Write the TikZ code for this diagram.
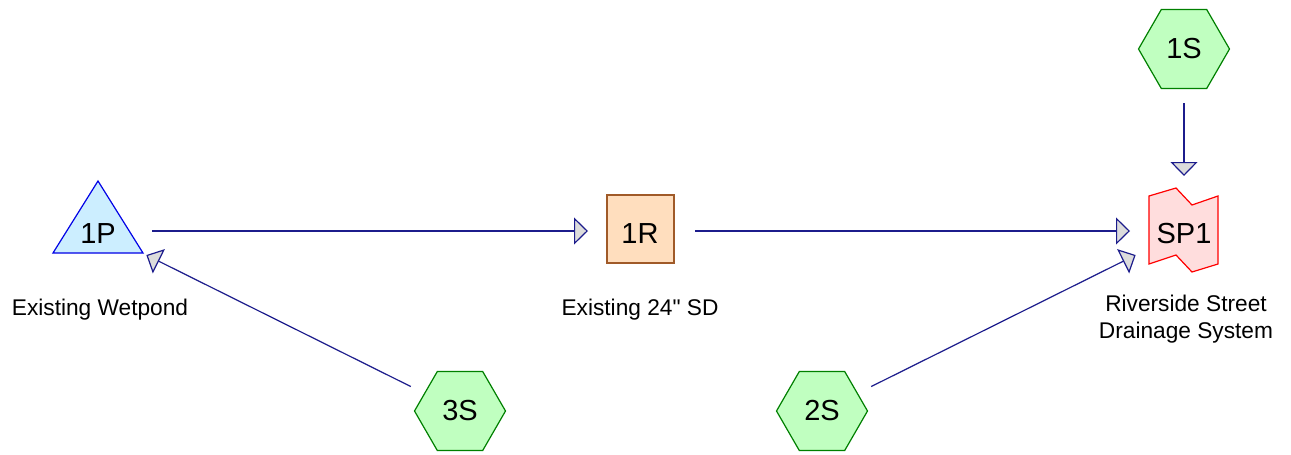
\documentclass[tikz,border=0pt]{standalone}
\usepackage{fontspec}
\setmainfont{Liberation Sans}[Ligatures=TeXOff]
\usetikzlibrary{arrows.meta,shapes.geometric,backgrounds}
\definecolor{flowc}{RGB}{28,28,140}
\definecolor{tipfill}{RGB}{220,220,220}
\definecolor{hexfill}{RGB}{192,255,192}
\definecolor{hexline}{RGB}{0,128,0}
\definecolor{pondfill}{RGB}{204,238,255}
\definecolor{pondline}{RGB}{0,0,230}
\definecolor{reachfill}{RGB}{255,222,190}
\definecolor{reachline}{RGB}{160,90,40}
\definecolor{linkfill}{RGB}{255,221,221}
\definecolor{linkline}{RGB}{255,0,0}
\begin{document}
\begin{tikzpicture}[x=1pt,y=-1pt,
  hexnode/.style={regular polygon,regular polygon sides=6,minimum size=91pt,inner sep=0pt,
    draw=hexline,fill=hexfill,line width=1.2pt,font=\fontsize{29}{34}\selectfont},
  ntext/.style={font=\fontsize{29}{34}\selectfont,inner sep=0pt,text height=25pt,text depth=0pt},
  lbl/.style={font=\fontsize{22.7}{27}\selectfont,align=center,inner sep=0pt},
  shapeline/.style={line width=1.2pt,line join=miter},
  flow/.style={draw=flowc,line width=1.2pt,-{Triangle[length=14pt,width=27pt,fill=tipfill]}}]
\useasboundingbox (0,0) rectangle (1291,455);

% nodes
\node[hexnode] (S1) at (1184,49) {1S};
\node[hexnode] (S2) at (822,411) {2S};
\node[hexnode] (S3) at (460,411) {3S};
\node[ntext] (P1) at (98,231) {1P};
\node[ntext] (R1) at (640,231) {1R};
\node[ntext] (SP1) at (1184,231) {SP1};

% labels
\node[lbl,anchor=base] (P1l) at (100,315) {Existing Wetpond};
\node[lbl,anchor=base] (R1l) at (640,315) {Existing 24" SD};
\node[lbl,anchor=base] (SP1l) at (1186,338) {Riverside Street\\Drainage System};

% shapes behind text
\begin{pgfonlayer}{background}
  \fill[white] (0,0) rectangle (1291,455);
  \draw[shapeline,draw=pondline,fill=pondfill]
    ([shift={(0,-50)}]P1.center) -- ([shift={(45,22)}]P1.center)
    -- ([shift={(-45,22)}]P1.center) -- cycle;
  \draw[shapeline,draw=reachline,fill=reachfill]
    ([shift={(-33,-36)}]R1.center) rectangle ([shift={(34,32)}]R1.center);
  \draw[shapeline,draw=linkline,fill=linkfill]
    ([shift={(-35,-35)}]SP1.center) -- ([shift={(-8,-43)}]SP1.center)
    -- ([shift={(8,-26)}]SP1.center) -- ([shift={(34,-35)}]SP1.center)
    -- ([shift={(34,33)}]SP1.center) -- ([shift={(8,41)}]SP1.center)
    -- ([shift={(-8,24)}]SP1.center) -- ([shift={(-35,33)}]SP1.center) -- cycle;
\end{pgfonlayer}

% connectors
\draw[flow,shorten <=54pt,shorten >=52pt] (P1.center) -- (R1.center);
\draw[flow,shorten <=55pt,shorten >=54pt] (R1.center) -- (SP1.center);
\draw[flow,shorten <=54pt,shorten >=55pt] (S1.center) -- (SP1.center);
\draw[flow,shorten <=55pt,shorten >=54pt] (S2.center) -- (SP1.center);
\draw[flow,shorten <=55pt,shorten >=54pt] (S3.center) -- (P1.center);
\end{tikzpicture}
\end{document}
